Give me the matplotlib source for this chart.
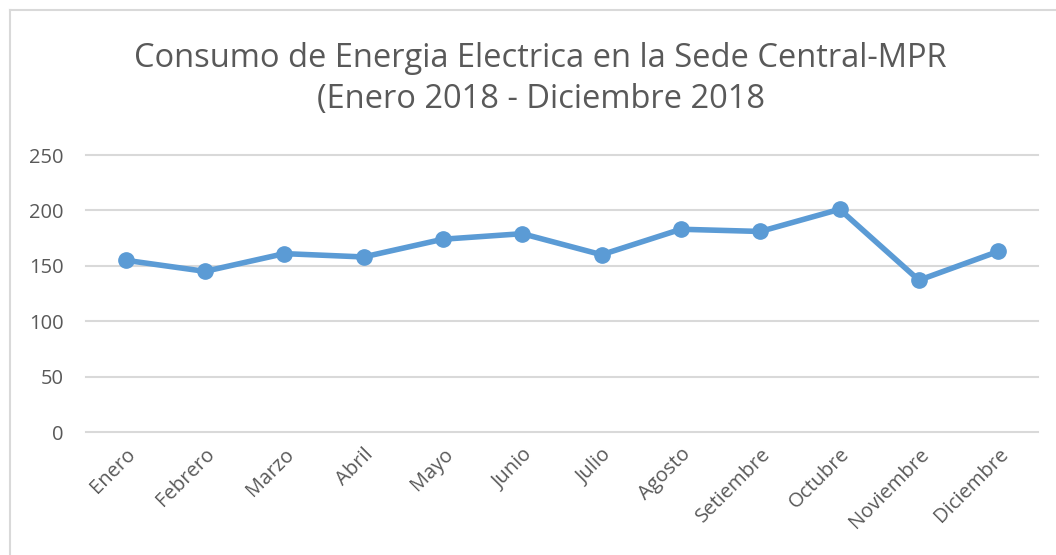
import matplotlib.pyplot as plt
from matplotlib.lines import Line2D

meses = ['Enero', 'Febrero', 'Marzo', 'Abril', 'Mayo', 'Junio', 'Julio',
         'Agosto', 'Setiembre', 'Octubre', 'Noviembre', 'Diciembre']
consumo = [155, 145, 161, 158, 174, 179, 160, 183, 181, 201, 137, 163]
yticks = [0, 50, 100, 150, 200, 250]

plt.rcParams['font.family'] = ['Open Sans', 'DejaVu Sans']
gris = '#595959'

fig = plt.figure(figsize=(10.56, 5.55), dpi=100)
ax = fig.add_axes([0.0814, 0.2216, 0.9015, 0.4991])

x = list(range(len(meses)))
ax.plot(x, consumo, color='#5b9bd5', linewidth=4, marker='o', markersize=11,
        solid_joinstyle='round', zorder=3)

ax.set_xlim(-0.5, len(meses) - 0.5)
ax.set_ylim(0, 250)
ax.set_yticks(yticks)
ax.set_xticks(x)
ax.set_xticklabels(meses, rotation=45, ha='right', rotation_mode='anchor')
ax.tick_params(axis='both', length=0, colors=gris, labelsize=14.5)
ax.tick_params(axis='x', pad=9)
ax.tick_params(axis='y', pad=16)

for v in yticks:
    ax.axhline(v, color='#d9d9d9', linewidth=1.5, zorder=1, clip_on=False)
for s in ax.spines.values():
    s.set_visible(False)

fig.text(0.512, 0.858, 'Consumo de Energia Electrica en la Sede Central-MPR\n(Enero 2018 - Diciembre 2018',
         ha='center', va='center', fontsize=23.5, color=gris, linespacing=1.3)

# borde del area del grafico
fig.add_artist(Line2D([10 / 1056, 1.0], [545 / 555, 545 / 555], color='#d9d9d9', linewidth=1.5))
fig.add_artist(Line2D([10 / 1056, 10 / 1056], [0.0, 545 / 555], color='#d9d9d9', linewidth=1.5))

fig.savefig('out.png', dpi=100)
